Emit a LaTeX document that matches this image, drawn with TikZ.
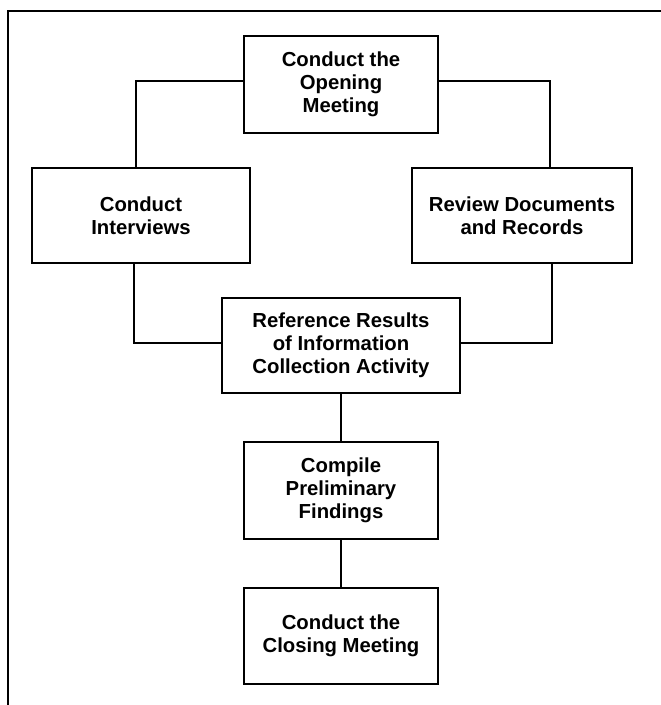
\documentclass[tikz,border=0pt]{standalone}
\usepackage{fontspec}
\setmainfont{Liberation Sans}
\begin{document}
\begin{tikzpicture}[x=1pt,y=-1pt,
  stepbox/.style={draw,line width=1.6pt,align=center,inner sep=0pt,
    font=\fontsize{20.3pt}{23pt}\selectfont\bfseries},
  conn/.style={line width=1.6pt}]
\useasboundingbox (0,0) rectangle (661,705);
\draw[line width=2pt] (8,705) -- (8,11) -- (661,11);
\node[stepbox,minimum width=194pt,minimum height=97pt] (open) at (341,84.5) {Conduct the\\Opening\\Meeting};
\node[stepbox,minimum width=218pt,minimum height=95pt] (inter) at (141,215.5) {Conduct\\Interviews};
\node[stepbox,minimum width=220pt,minimum height=95pt] (rev) at (522,215.5) {Review Documents\\and Records};
\node[stepbox,minimum width=238pt,minimum height=95pt] (ref) at (341,345.5) {Reference Results\\of Information\\Collection Activity};
\node[stepbox,minimum width=194pt,minimum height=97pt] (comp) at (341,490.5) {Compile\\Preliminary\\Findings};
\node[stepbox,minimum width=194pt,minimum height=96pt] (close) at (341,636) {Conduct the\\Closing Meeting};
\draw[conn] ([yshift=3.5pt]open.west) -| ([xshift=-5pt]inter.north);
\draw[conn] ([yshift=3.5pt]open.east) -| ([xshift=28pt]rev.north);
\draw[conn] ([xshift=-7pt]inter.south) |- ([yshift=2.5pt]ref.west);
\draw[conn] ([xshift=30pt]rev.south) |- ([yshift=2.5pt]ref.east);
\draw[conn] (ref.south) -- (comp.north);
\draw[conn] (comp.south) -- (close.north);
\end{tikzpicture}
\end{document}
